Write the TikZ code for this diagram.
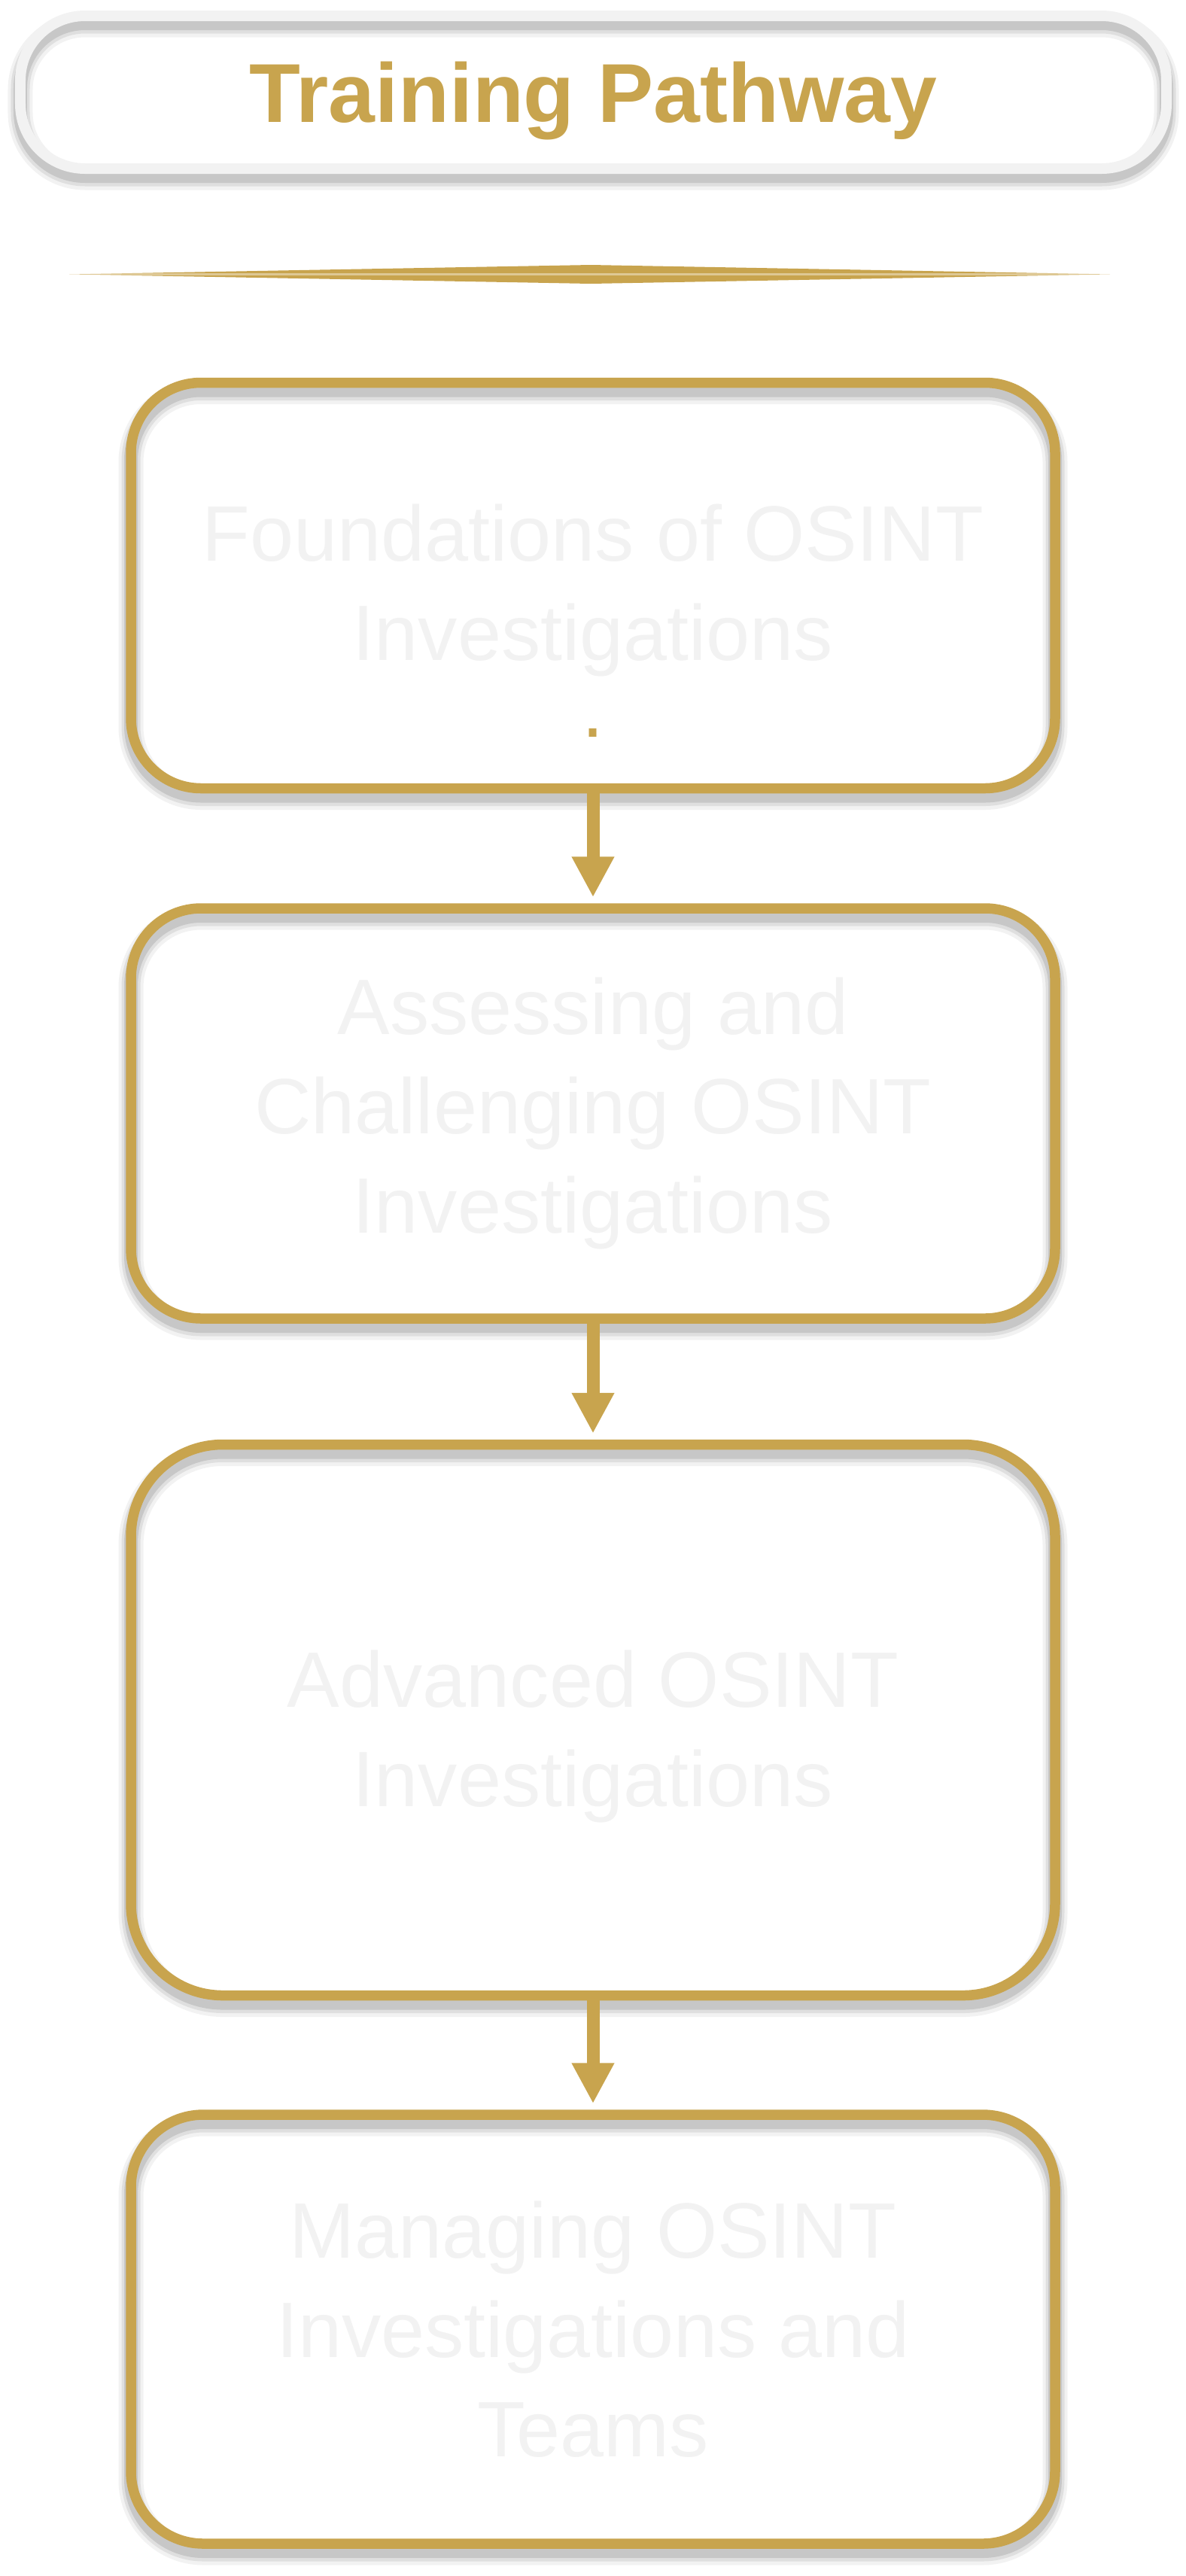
\documentclass[tikz,border=0pt]{standalone}
\usepackage{fontspec}
\setmainfont{Liberation Sans}
\usepackage{tikz}
\usetikzlibrary{arrows.meta,positioning}

\definecolor{pathgold}{RGB}{200,164,78}
\definecolor{palegrey}{RGB}{242,242,242}

\begin{document}
\begin{tikzpicture}[
    >=Latex,
    shadowed/.style={
      preaction={draw=black, draw opacity=.05, line width=3.3mm, transform canvas={yshift=-1.2mm}},
      preaction={draw=black, draw opacity=.08, line width=2.5mm, transform canvas={yshift=-1.1mm}},
      preaction={draw=black, draw opacity=.11, line width=1.8mm, transform canvas={yshift=-1mm}}
    },
    stagetext/.style={
      align=center,
      text=palegrey,
      font=\fontsize{29.7}{37.6}\selectfont
    },
    stage/.style={
      stagetext,
      shadowed,
      draw=pathgold,
      line width=1.35mm,
      rounded corners=9.3mm,
      minimum width=122.8mm
    },
    titlebox/.style={
      shadowed,
      draw=palegrey,
      line width=1.4mm,
      rounded corners=8.6mm,
      minimum width=152.3mm,
      minimum height=20.3mm,
      font=\fontsize{31.6}{38}\selectfont\bfseries,
      text depth=0pt
    },
    flow/.style={-{Triangle[length=5.4mm,width=5.3mm]}, line width=1.7mm, draw=pathgold, shorten >=0.8mm}
  ]
    \useasboundingbox (0,0) rectangle (15.76,-34.23);

    % heading
    \node[titlebox, text=pathgold] (title) at (7.885,-1.225) {Training Pathway};

    % divider
    \fill[pathgold] (0.92,-3.645) -- (7.85,-3.52) -- (14.75,-3.645) -- (7.85,-3.77) -- cycle;
    \draw[white, draw opacity=.4, line width=.25mm] (0.92,-3.645) -- (14.75,-3.645);

    % pathway stages
    \node[stage, minimum height=53.9mm] (foundations) at (7.88,-7.78) {};
    \node[stagetext] (foundtext) at ([yshift=-4.7mm]foundations.center)
      {Foundations of OSINT\\Investigations\\[-3mm]{\color{pathgold}.}};
    \node[stage, minimum height=54.5mm, below=14.6mm of foundations] (assessing)
      {Assessing and\\Challenging OSINT\\Investigations};
    \node[stage, minimum height=73.2mm, rounded corners=12.2mm, below=15.4mm of assessing] (advanced) {};
    \node[stagetext] (advtext) at ([yshift=-2.2mm]advanced.center)
      {Advanced OSINT\\Investigations};
    \node[stage, minimum height=57mm, rounded corners=9.6mm, below=14.5mm of advanced] (managing)
      {Managing OSINT\\Investigations and\\Teams};

    \draw[flow] (foundations) -- (assessing);
    \draw[flow] (assessing) -- (advanced);
    \draw[flow] (advanced) -- (managing);
  \end{tikzpicture}
\end{document}
